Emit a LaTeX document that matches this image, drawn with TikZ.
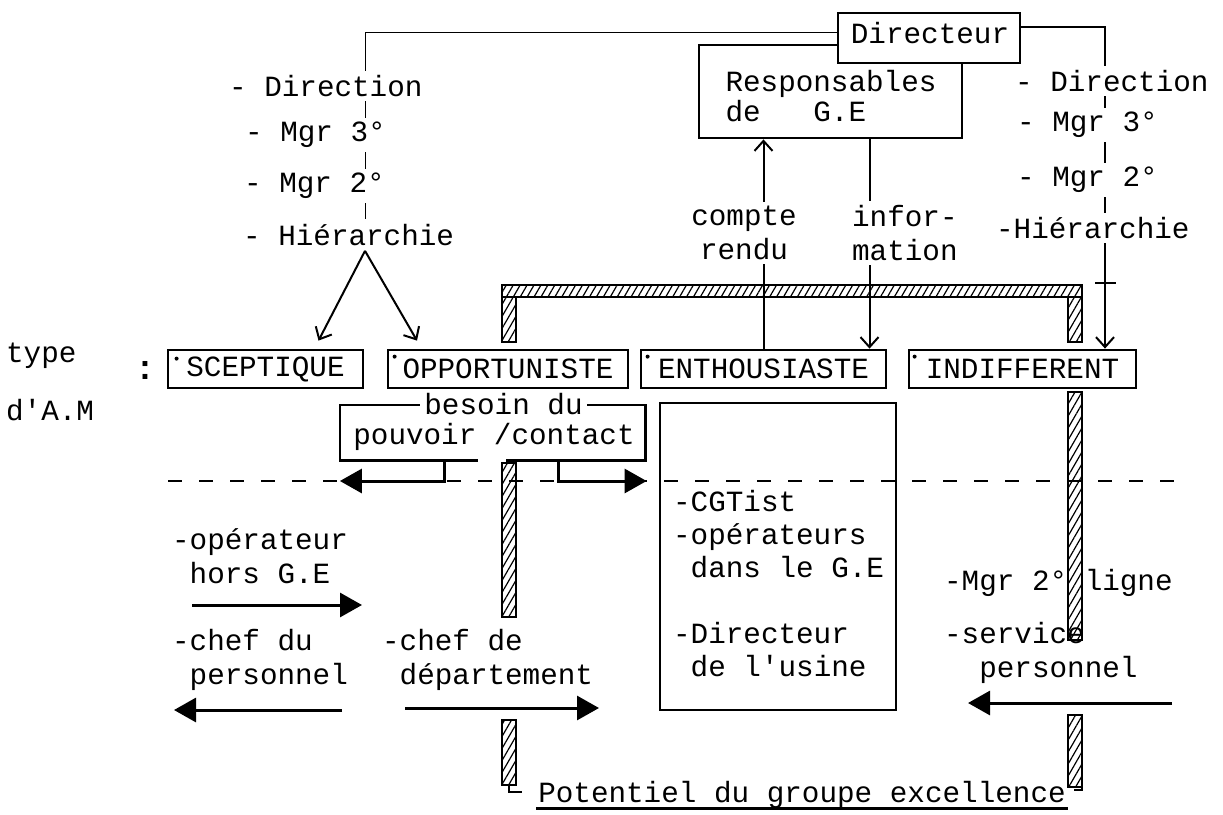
\documentclass[tikz,border=0pt]{standalone}
\usepackage{fontspec}
\setmainfont{Liberation Mono}
\usepackage{tikz}
\usetikzlibrary{arrows.meta, positioning, calc, fit, backgrounds, patterns.meta}

\begin{document}
\begin{tikzpicture}[x=1pt, y=-1pt, line width=2.2pt,
  every node/.style={font=\fontsize{29.3}{34}\selectfont, inner sep=1pt},
  box/.style={draw, line width=2.8pt, inner sep=0pt},
  typebox/.style={draw, line width=2.8pt, minimum width=#1, minimum height=38pt, inner sep=0pt},
  lbl/.style={fill=white, inner xsep=0pt, inner ysep=4pt},
  arr/.style={-{Straight Barb[length=10pt,width=18pt]}, line width=2pt},
  bigarr/.style={-{Triangle[length=22pt,width=24pt]}, line width=3pt},
  hatch/.style={draw, line width=1.2pt, pattern={Lines[angle=60,distance=6pt,line width=1.2pt]}},
  dotmark/.style={circle, fill, inner sep=0pt, minimum size=4pt}]
  \useasboundingbox (0,0) rectangle (1223,814);

  \node[anchor=west] (typelbl) at (4,356) {type};
  \node[anchor=west] (amlbl) at (4,410) {d\textquotesingle A.M};
  \node[font=\bfseries\fontsize{34}{34}\selectfont] (colon) at (145,370) {:};

  \node[typebox=195pt] (scep) at (265.5,369) {SCEPTIQUE};
  \node[typebox=240pt] (opp) at (508,369) {OPPORTUNISTE};
  \node[typebox=245pt] (enth) at (763.5,369) {ENTHOUSIASTE};
  \node[typebox=227pt] (indif) at (1022.5,369) {INDIFFERENT};
  \node[dotmark] at ([xshift=10pt,yshift=-10pt]scep.north west) {};
  \node[dotmark] at ([xshift=8pt,yshift=-8pt]opp.north west) {};
  \node[dotmark] at ([xshift=8pt,yshift=-8pt]enth.north west) {};
  \node[dotmark] at ([xshift=7pt,yshift=-8pt]indif.north west) {};

  \node[box, fit={(699,45) (962,138)}] (resp) {};
  \node[box, fill=white, fit={(838,13) (1020,63)}] (dir) {};
  \node (dirtxt) at (930,33) {Directeur};
  \node[align=left, font=\fontsize{29.3}{30}\selectfont] (resptxt) at (831,96) {Responsables\\de\ \ \ G.E};

  \node[box, fit={(660,403) (896,710)}] (enthbox) {};
  \node[align=left, anchor=north west, inner sep=0pt, font=\fontsize{29.3}{33}\selectfont] (enthtxt) at (672,489)
    {-CGTist\\-opérateurs\\\hphantom{-}dans le G.E\\[33pt]-Directeur\\\hphantom{-}de l\textquotesingle usine};

  \node[lbl, anchor=west] (ldir) at (228,86) {- Direction};
  \node[lbl, anchor=west] (lmgrt) at (244,135) {- Mgr 3°};
  \node[lbl, anchor=west] (lmgrd) at (243,186) {- Mgr 2°};
  \node[lbl, anchor=west] (lhier) at (242,235) {- Hiérarchie};

  \node[lbl, anchor=west] (rdir) at (1014,81) {- Direction};
  \node[lbl, anchor=west] (rmgrt) at (1016,125) {- Mgr 3°};
  \node[lbl, anchor=west] (rmgrd) at (1016,180) {- Mgr 2°};
  \node[lbl, anchor=west] (rhier) at (995,228) {-Hiérarchie};

  \coordinate (lcorner) at (365,32);
  \coordinate (rcorner) at (1105,27);
  \coordinate (infotop) at ([xshift=39pt]resp.south);

  \node[lbl, align=center] (compte) at (744,233) {compte\\rendu};
  \node[lbl, align=left, anchor=west] (info) at (851,233) {infor-\\mation};

  \node[fit={(341,406) (644,459)}, inner sep=0pt] (besoin) {};
  \node[lbl, inner xsep=4pt] (besoinlbl) at (503.5,404) {besoin du};
  \node (pouvoir) at (494,437) {pouvoir /contact};

  \node[align=left, anchor=west] (oper) at (170,556) {-opérateur\\\hphantom{-}hors G.E};
  \node[align=left, anchor=west] (chefdu) at (170,660) {-chef du\\\hphantom{-}personnel};
  \node[align=left, anchor=west] (chefde) at (380,660) {-chef de\\\hphantom{-}département};
  \node[anchor=west] (mgrligne) at (942,583) {-Mgr 2° ligne};
  \node[align=left, anchor=west] (service) at (942,653) {-service\\\hphantom{----}personnel};
  \node (pot) at (802,795) {Potentiel du groupe excellence};

  \coordinate (dashL) at (168,481);
  \coordinate (dashR) at (1190,481);
  \coordinate (operA) at (192,605);
  \coordinate (operB) at (362,605);
  \coordinate (chefduA) at (342,710);
  \coordinate (chefduB) at (174,710);
  \coordinate (chefdeA) at (405,708);
  \coordinate (chefdeB) at (599,708);
  \coordinate (serviceA) at (1172,703);
  \coordinate (serviceB) at (968,703);

  \begin{scope}[on background layer]
    \draw[dash pattern=on 14pt off 17pt, line width=1.5pt] (dashL) -- (dashR);
    \draw[hatch] (502,285) rectangle (1082,297);
    \draw[hatch] (502,297) rectangle (516,342);
    \draw[hatch] (502,463) rectangle (516,617);
    \draw[hatch] (502,720) rectangle (516,785);
    \draw[hatch] (1068,297) rectangle (1082,342);
    \draw[hatch] (1068,392) rectangle (1082,640);
    \draw[hatch] (1068,715) rectangle (1082,787);
    \draw (dir.west |- lcorner) -- (lcorner) -- (lcorner |- lhier.north);
    \draw[arr] (dir.east |- rcorner) -- (rcorner) -- (rcorner |- indif.north);
    \draw[arr] (enth.north) -- (enth.north |- resp.south);
    \draw[arr] (infotop) -- (infotop |- enth.north);
    \draw[line width=2.8pt] ([xshift=-15pt]besoin.south) -| (besoin.north west) -- (besoin.north east) |- ([xshift=13pt]besoin.south);
  \end{scope}

  \draw[arr] (lcorner |- lhier.south) -- ([xshift=53pt,yshift=8pt]scep.north);
  \draw[arr] (lcorner |- lhier.south) -- ([xshift=-91pt,yshift=8pt]opp.north);
  \draw (1095,283) -- (1116,283);

  \draw[bigarr] ([xshift=-48pt]besoin.south) |- (besoin.west |- dashL);
  \draw[bigarr] ([xshift=66pt]besoin.south) |- ($(enthbox.west |- dashL)+(-12,0)$);
  \draw[bigarr] (operA) -- (operB);
  \draw[bigarr] (chefduA) -- (chefduB);
  \draw[bigarr] (chefdeA) -- (chefdeB);
  \draw[bigarr] (serviceA) -- (serviceB);

  \draw[line width=2.5pt] ([yshift=-6pt]pot.base west) -- ([yshift=-6pt]pot.base east);
  \draw (509,785) -- (509,792) -- (522,792);
  \draw (1082,782) -- (1082,790) -- (1074,790);
\end{tikzpicture}
\end{document}
